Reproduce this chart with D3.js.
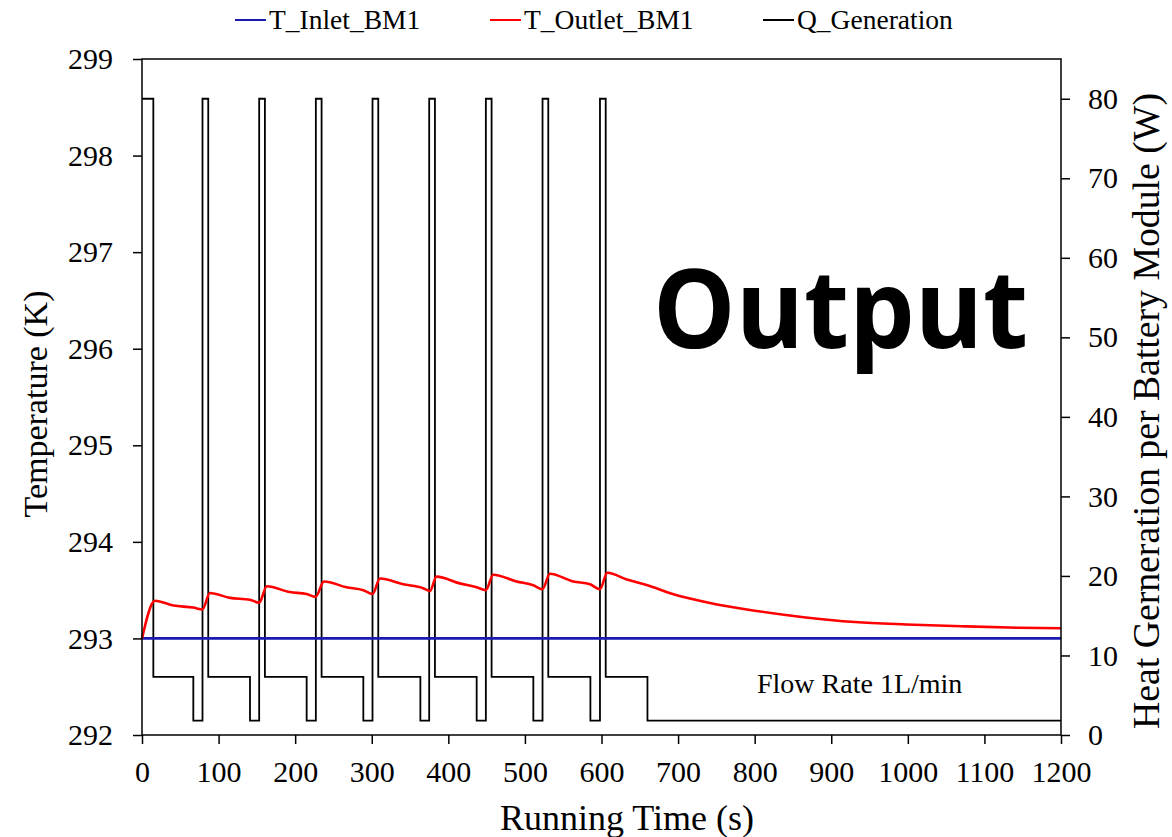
<!DOCTYPE html>
<html><head><meta charset="utf-8">
<script src="https://cdn.jsdelivr.net/npm/d3@7"></script>
<style>body{margin:0;background:#fff} svg{display:block}</style>
</head><body>
<svg id="c" width="1172" height="837"></svg>
<script>
// ---- data ----
const timeTicks = [0,100,200,300,400,500,600,700,800,900,1000,1100,1200];
const tempTicks = [292,293,294,295,296,297,298,299];
const heatTicks = [0,10,20,30,40,50,60,70,80];
const seriesNames = ["T_Inlet_BM1","T_Outlet_BM1","Q_Generation"];
const seriesColors = ["#1a1ab0","#ff0000","#000000"];

const inletTime = [0, 1200];
const inletTemp = [293.0, 293.0];

const outletTime = [0,17,41,67,79,88.7,115,141,153,163,193,215,226.7,237.6,267,289,301,310.7,341,367,376,384.6,415,437,449,458.6,489,511,523,532.6,563,585,598,607.6,633,660,693,740,798,864,931,998,1074,1145,1200];
const outletTemp = [293.0,293.39,293.34,293.32,293.30,293.47,293.42,293.40,293.37,293.54,293.48,293.46,293.43,293.59,293.53,293.50,293.46,293.62,293.56,293.52,293.49,293.64,293.57,293.53,293.50,293.66,293.59,293.55,293.51,293.67,293.59,293.56,293.51,293.68,293.61,293.55,293.46,293.37,293.29,293.22,293.17,293.145,293.125,293.11,293.105];

const qTime  = [0,14.8,67,79,86.5,141,153,160.5,215,227,234.5,289,301,308.5,363.5,375,382.5,437,449,456.5,511,523,530.5,585.5,598,605.5,660,1200];
const qValue = [80,7.3,1.8,80,7.3,1.8,80,7.3,1.8,80,7.3,1.8,80,7.3,1.8,80,7.3,1.8,80,7.3,1.8,80,7.3,1.8,80,7.3,1.8,1.8];

// ---- layout ----
const L = 142, R = 1061, T = 59, B = 735;
const serif = "'Liberation Serif','Times New Roman',serif";

const svg = d3.select("#c");
const x = d3.scaleLinear().domain([0,1200]).range([L,R]);
const yT = d3.scaleLinear().domain([292,299]).range([B,T]);
const yQ = d3.scaleLinear().domain([0,85]).range([B,T]);

// lines
const qLine = d3.line().x(d=>x(d[0])).y(d=>yQ(d[1])).curve(d3.curveStepAfter);
svg.append("path").datum(qTime.map((t,i)=>[t,qValue[i]]))
  .attr("d", qLine).attr("fill","none").attr("stroke",seriesColors[2]).attr("stroke-width",1.8);

const tLine = d3.line().x(d=>x(d[0])).y(d=>yT(d[1]));
svg.append("path").datum(inletTime.map((t,i)=>[t,inletTemp[i]]))
  .attr("d", tLine).attr("fill","none").attr("stroke",seriesColors[0]).attr("stroke-width",2.8);
svg.append("path").datum(outletTime.map((t,i)=>[t,outletTemp[i]]))
  .attr("d", d3.line().x(d=>x(d[0])).y(d=>yT(d[1])).curve(d3.curveMonotoneX))
  .attr("fill","none").attr("stroke",seriesColors[1]).attr("stroke-width",2.6)
  .attr("stroke-linejoin","round");

// frame
svg.append("rect").attr("x",L).attr("y",T).attr("width",R-L).attr("height",B-T)
  .attr("fill","none").attr("stroke","#000").attr("stroke-width",1.5);

// axes
function styleAxis(g){
  g.select(".domain").remove();
  g.selectAll(".tick line").attr("stroke","#000").attr("stroke-width",1.5);
  g.selectAll(".tick text").attr("font-family",serif).attr("font-size",30).attr("fill","#000");
}
svg.append("g").attr("transform",`translate(0,${B})`)
  .call(d3.axisBottom(x).tickValues(timeTicks).tickSize(9).tickPadding(17).tickFormat(d3.format("d")))
  .call(styleAxis);
svg.append("g").attr("transform",`translate(${L},0)`)
  .call(d3.axisLeft(yT).tickValues(tempTicks).tickSize(9).tickPadding(20).tickFormat(d3.format("d")))
  .call(styleAxis);
svg.append("g").attr("transform",`translate(${R},0)`)
  .call(d3.axisRight(yQ).tickValues(heatTicks).tickSize(9).tickPadding(18).tickFormat(d3.format("d")))
  .call(styleAxis);

// axis titles
svg.append("text").attr("x",627).attr("y",830).attr("text-anchor","middle")
  .attr("font-family",serif).attr("font-size",36).text("Running Time (s)");
svg.append("text").attr("transform","translate(47,404) rotate(-90)").attr("text-anchor","middle")
  .attr("font-family",serif).attr("font-size",34).text("Temperature (K)");
svg.append("text").attr("transform","translate(1159,411) rotate(-90)").attr("text-anchor","middle")
  .attr("font-family",serif).attr("font-size",37)
  .attr("textLength",636).attr("lengthAdjust","spacingAndGlyphs")
  .text("Heat Gerneration per Battery Module (W)");

// legend
const legX = [235, 490, 763];
seriesNames.forEach((n,i)=>{
  svg.append("line").attr("x1",legX[i]).attr("x2",legX[i]+31).attr("y1",20).attr("y2",20)
    .attr("stroke",seriesColors[i]).attr("stroke-width",2);
  svg.append("text").attr("x",legX[i]+34).attr("y",29).attr("font-family",serif)
    .attr("font-size",27.5).text(n);
});

// annotations
svg.append("text").attr("x",757).attr("y",693).attr("font-family",serif).attr("font-size",28)
  .text("Flow Rate 1L/min");
svg.append("text").attr("x",653).attr("y",348)
  .attr("font-family","'Open Sans',Arial,sans-serif").attr("font-weight","bold").attr("font-size",110)
  .attr("textLength",375).attr("lengthAdjust","spacingAndGlyphs")
  .text("Output");
</script>
</body></html>
